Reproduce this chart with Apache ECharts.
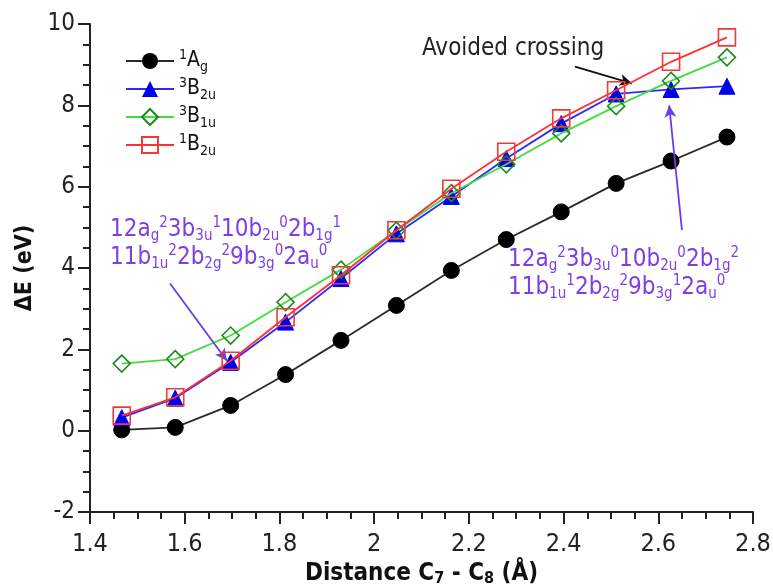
<!DOCTYPE html>
<html>
<head>
<meta charset="utf-8">
<script src="https://cdn.jsdelivr.net/npm/echarts@6/dist/echarts.min.js"></script>
<style>
  html, body { margin: 0; padding: 0; background: #fff; }
  #echart { width: 773px; height: 584px; }
</style>
</head>
<body>
<div id="echart"></div>
<script>
// C7-C8 distance (Angstrom)
var distance = [1.467, 1.580, 1.697, 1.813, 1.930, 2.047, 2.163, 2.279, 2.395, 2.511, 2.627, 2.745]
// excitation energies (eV)
var ag1 = [0.02, 0.08, 0.62, 1.38, 2.22, 3.08, 3.94, 4.70, 5.38, 6.08, 6.63, 7.22]
var b2u3 = [0.32, 0.80, 1.68, 2.67, 3.74, 4.84, 5.76, 6.69, 7.55, 8.28, 8.39, 8.47]
var b1u3 = [1.65, 1.76, 2.34, 3.16, 3.96, 4.92, 5.84, 6.55, 7.31, 7.98, 8.60, 9.18]
var b2u1 = [0.37, 0.82, 1.72, 2.79, 3.82, 4.93, 5.95, 6.86, 7.68, 8.37, 9.07, 9.67]

var seriesNames = ['1Ag', '3B2u', '3B1u', '1B2u']
var legendLabels = {
  '1Ag': '{sup|1}{n|A}{sub|g}',
  '3B2u': '{sup|3}{n|B}{sub|2u}',
  '3B1u': '{sup|3}{n|B}{sub|1u}',
  '1B2u': '{sup|1}{n|B}{sub|2u}'
}

// annotation arrows, [from, to] in data coords
var crossingArrow = [[2.424, 8.95], [2.544, 8.54]]
var leftArrow = [[1.569, 3.62], [1.689, 1.72]]
var rightArrow = [[2.650, 4.93], [2.623, 8.00]]

var FONT = "'DejaVu Sans Condensed', 'Liberation Sans', sans-serif"
var PURPLE = '#7b3fe6'

var pairs = function (ys) {
  return distance.map(function (x, i) { return [x, ys[i]] })
}

var annoRich = {
  n: { fontSize: 24, lineHeight: 28, fontFamily: FONT, color: PURPLE },
  sub: { fontSize: 15, lineHeight: 13, verticalAlign: 'bottom', fontFamily: FONT, color: PURPLE },
  sup: { fontSize: 15, lineHeight: 13, verticalAlign: 'top', fontFamily: FONT, color: PURPLE }
}

var chart = echarts.init(document.getElementById('echart'))

chart.setOption({
  animation: false,
  backgroundColor: '#fff',
  grid: { left: 90, right: 20, top: 24, bottom: 72, outerBoundsMode: 'none', containLabel: false },
  legend: {
    data: seriesNames,
    orient: 'vertical',
    left: 120,
    top: 43,
    itemWidth: 48,
    itemHeight: 20,
    itemGap: 2,
    formatter: function (name) { return legendLabels[name] },
    textStyle: {
      fontFamily: FONT,
      color: '#111',
      rich: {
        n: { fontSize: 21, lineHeight: 26, fontFamily: FONT, color: '#111' },
        sub: { fontSize: 14, lineHeight: 12, verticalAlign: 'bottom', fontFamily: FONT, color: '#111' },
        sup: { fontSize: 14, lineHeight: 12, verticalAlign: 'top', fontFamily: FONT, color: '#111' }
      }
    }
  },
  xAxis: {
    type: 'value',
    min: 1.4,
    max: 2.8,
    interval: 0.2,
    name: '{b|Distance C}{s|7}{b| - C}{s|8}{b| (Å)}',
    nameLocation: 'middle',
    nameGap: 47,
    nameTextStyle: {
      rich: {
        b: { fontSize: 24, fontWeight: 'bold', fontFamily: FONT, color: '#111', lineHeight: 26 },
        s: { fontSize: 16, fontWeight: 'bold', fontFamily: FONT, color: '#111', lineHeight: 14, verticalAlign: 'bottom' }
      }
    },
    axisLine: { onZero: false, lineStyle: { color: '#222', width: 2 } },
    axisTick: { length: 12, lineStyle: { color: '#222', width: 2 } },
    minorTick: { show: true, splitNumber: 4, length: 7, lineStyle: { color: '#222', width: 2 } },
    axisLabel: {
      fontSize: 25, fontFamily: FONT, color: '#222', margin: 20,
      formatter: function (v) { return String(Math.round(v * 10) / 10) }
    },
    splitLine: { show: false }
  },
  yAxis: {
    type: 'value',
    min: -2,
    max: 10,
    interval: 2,
    name: 'ΔE (eV)',
    nameLocation: 'middle',
    nameGap: 52,
    nameTextStyle: { fontSize: 23, fontWeight: 'bold', fontFamily: FONT, color: '#111' },
    axisLine: { onZero: false, lineStyle: { color: '#222', width: 2 } },
    axisTick: { length: 12, lineStyle: { color: '#222', width: 2 } },
    minorTick: { show: true, splitNumber: 4, length: 7, lineStyle: { color: '#222', width: 2 } },
    axisLabel: { fontSize: 24, fontFamily: FONT, color: '#222', margin: 15 },
    splitLine: { show: false }
  },
  series: [
    {
      name: '1Ag',
      type: 'line',
      data: pairs(ag1),
      symbol: 'circle',
      symbolSize: 16,
      lineStyle: { color: '#2a2a2a', width: 1.8 },
      itemStyle: { color: '#000', borderColor: '#000' },
      z: 2,
      markLine: {
        silent: true,
        symbol: ['none', 'arrow'],
        symbolSize: [9, 12],
        label: { show: false },
        emphasis: { disabled: true },
        data: [
          [
            { coord: crossingArrow[0], lineStyle: { color: '#111', width: 1.8, type: 'solid' } },
            { coord: crossingArrow[1] }
          ],
          [
            { coord: leftArrow[0], lineStyle: { color: '#6a3ee0', width: 1.8, type: 'solid' } },
            { coord: leftArrow[1] }
          ],
          [
            { coord: rightArrow[0], lineStyle: { color: '#6a3ee0', width: 1.8, type: 'solid' } },
            { coord: rightArrow[1] }
          ]
        ]
      }
    },
    {
      name: '3B2u',
      type: 'line',
      data: pairs(b2u3),
      symbol: 'triangle',
      symbolSize: 16,
      lineStyle: { color: '#2b2bff', width: 1.8 },
      itemStyle: { color: '#0000f0', borderColor: '#0000f0' },
      z: 3
    },
    {
      name: '3B1u',
      type: 'line',
      data: pairs(b1u3),
      symbol: 'diamond',
      symbolSize: 17,
      lineStyle: { color: '#3ede3e', width: 1.8 },
      itemStyle: { color: 'rgba(255,255,255,0)', borderColor: '#1e8a1e', borderWidth: 1.6 },
      z: 4
    },
    {
      name: '1B2u',
      type: 'line',
      data: pairs(b2u1),
      symbol: 'rect',
      symbolSize: 17,
      lineStyle: { color: '#ff3030', width: 1.8 },
      itemStyle: { color: 'rgba(255,255,255,0)', borderColor: '#f03a3a', borderWidth: 1.6 },
      z: 5
    }
  ],
  graphic: [
    {
      type: 'text',
      left: 422,
      top: 37,
      silent: true,
      style: { text: 'Avoided crossing', font: '24px ' + FONT, fill: '#222' }
    },
    {
      type: 'text',
      left: 110,
      top: 216,
      silent: true,
      style: {
        text: '{n|12a}{sub|g}{sup|2}{n|3b}{sub|3u}{sup|1}{n|10b}{sub|2u}{sup|0}{n|2b}{sub|1g}{sup|1}\n' +
              '{n|11b}{sub|1u}{sup|2}{n|2b}{sub|2g}{sup|2}{n|9b}{sub|3g}{sup|0}{n|2a}{sub|u}{sup|0}',
        fill: PURPLE,
        rich: annoRich
      }
    },
    {
      type: 'text',
      left: 508,
      top: 246,
      silent: true,
      style: {
        text: '{n|12a}{sub|g}{sup|2}{n|3b}{sub|3u}{sup|0}{n|10b}{sub|2u}{sup|0}{n|2b}{sub|1g}{sup|2}\n' +
              '{n|11b}{sub|1u}{sup|1}{n|2b}{sub|2g}{sup|2}{n|9b}{sub|3g}{sup|1}{n|2a}{sub|u}{sup|0}',
        fill: PURPLE,
        rich: annoRich
      }
    }
  ]
})
</script>
</body>
</html>
